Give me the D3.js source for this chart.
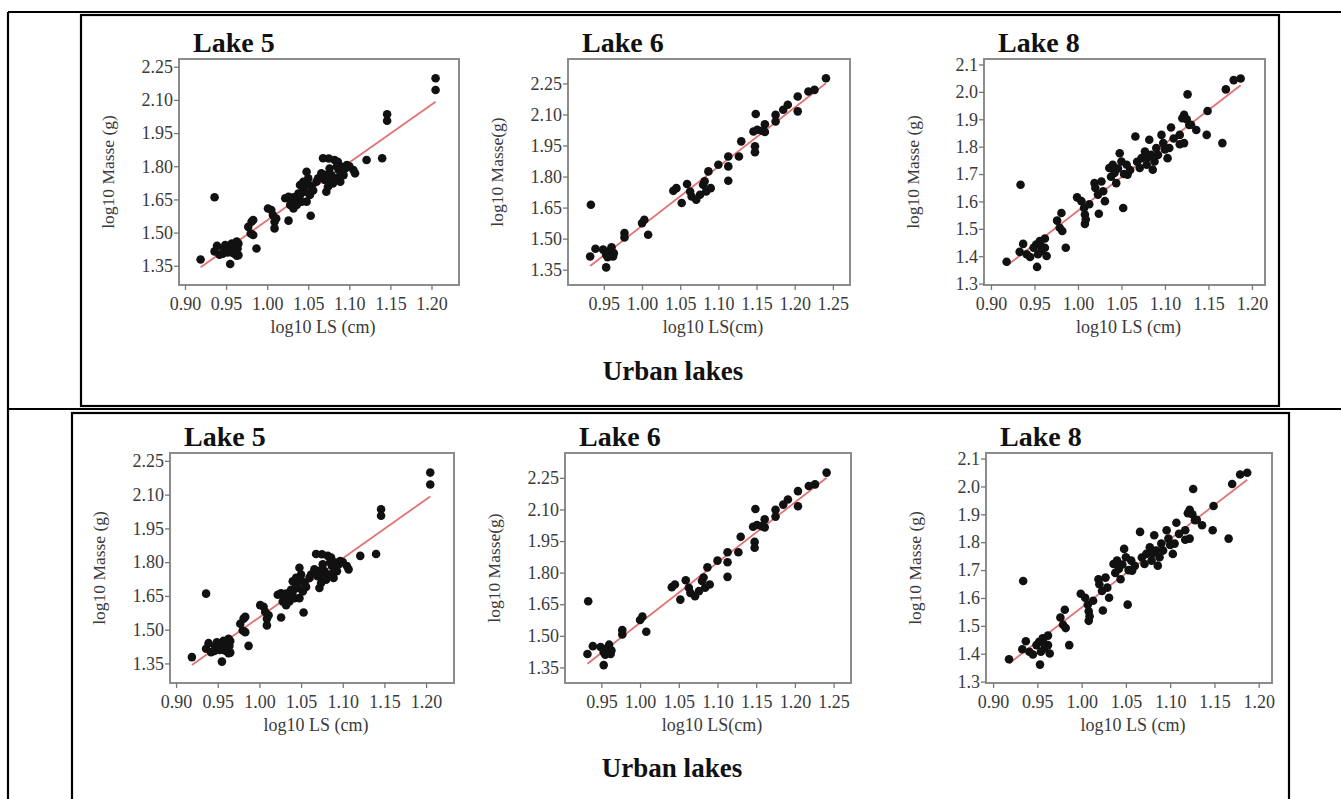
<!DOCTYPE html>
<html>
<head>
<meta charset="utf-8">
<script src="https://cdn.jsdelivr.net/npm/d3@7"></script>
<style>
  html, body { margin: 0; padding: 0; background: #fff; }
  svg { display: block; }
  text { font-family: "Liberation Serif", "Times New Roman", serif; }
</style>
</head>
<body>
<svg id="chart" width="1341" height="799"></svg>
<script>
// ---- data ----
const lakeNames = ["Lake 5", "Lake 6", "Lake 8"];
const yAxisLabels = ["log10 Masse (g)", "log10 Masse(g)", "log10 Masse (g)"];
const xAxisLabels = ["log10 LS (cm)", "log10 LS(cm)", "log10 LS (cm)"];
const panelTitle = "Urban lakes";

const xTicks5 = [0.90, 0.95, 1.00, 1.05, 1.10, 1.15, 1.20];
const yTicks5 = [1.35, 1.50, 1.65, 1.80, 1.95, 2.10, 2.25];
const xTicks6 = [0.95, 1.00, 1.05, 1.10, 1.15, 1.20, 1.25];
const yTicks6 = [1.35, 1.50, 1.65, 1.80, 1.95, 2.10, 2.25];
const xTicks8 = [0.90, 0.95, 1.00, 1.05, 1.10, 1.15, 1.20];
const yTicks8 = [1.3, 1.4, 1.5, 1.6, 1.7, 1.8, 1.9, 2.0, 2.1];

const xRange5 = [0.8927, 1.2335], yRange5 = [1.263, 2.285];
const xRange6 = [0.9030, 1.2725], yRange6 = [1.276, 2.368];
const xRange8 = [0.8920, 1.2150], yRange8 = [1.295, 2.120];

// log10 LS, log10 Masse
const lake5X = [0.919,0.936,0.939,0.936,0.942,0.946,0.950,0.955,0.957,0.962,0.963,0.965,0.960,0.947,0.949,0.957,0.963,0.964,0.965,0.959,
  0.977,0.981,0.983,0.980,0.983,0.987,1.001,1.005,1.007,1.009,1.009,1.011,1.022,1.026,1.028,1.030,1.032,1.026,1.034,1.038,
  1.040,1.044,1.048,1.050,1.046,1.048,1.052,1.054,1.053,1.042,1.036,1.060,1.066,1.068,1.072,1.074,1.078,1.080,1.082,1.086,
  1.084,1.087,1.089,1.091,1.093,1.097,1.105,1.107,1.076,1.070,1.075,1.121,1.140,1.146,1.146,1.205,1.205,
  1.044,1.050,1.056,1.062,1.072,1.078,1.085,1.090,1.095,1.100,1.032,1.040,0.955,0.952];
const lake5Y = [1.378,1.660,1.440,1.415,1.400,1.405,1.420,1.358,1.410,1.425,1.395,1.450,1.405,1.425,1.444,1.451,1.459,1.428,1.398,1.413,
  1.526,1.549,1.557,1.496,1.489,1.428,1.609,1.602,1.579,1.549,1.519,1.564,1.655,1.662,1.625,1.640,1.609,1.554,1.655,1.677,
  1.715,1.730,1.775,1.745,1.685,1.640,1.670,1.707,1.576,1.640,1.625,1.730,1.768,1.836,1.685,1.707,1.760,1.722,1.828,1.820,
  1.745,1.783,1.730,1.798,1.760,1.805,1.783,1.768,1.790,1.738,1.835,1.828,1.836,2.035,2.006,2.198,2.145,
  1.700,1.720,1.690,1.745,1.760,1.730,1.800,1.765,1.790,1.800,1.660,1.670,1.440,1.410];

const lake6X = [0.933,0.932,0.939,0.949,0.953,0.953,0.957,0.960,0.963,0.955,0.962,0.977,0.977,1.000,1.003,1.008,1.041,1.045,1.052,1.059,
  1.063,1.065,1.071,1.076,1.080,1.082,1.084,1.087,1.090,1.100,1.113,1.113,1.113,1.127,1.130,1.146,1.148,1.148,1.149,1.151,
  1.157,1.161,1.161,1.175,1.175,1.185,1.191,1.204,1.204,1.218,1.226,1.241];
const lake6Y = [1.664,1.414,1.451,1.447,1.361,1.422,1.439,1.458,1.430,1.410,1.414,1.527,1.506,1.575,1.591,1.519,1.731,1.744,1.672,1.764,
  1.728,1.704,1.688,1.712,1.760,1.777,1.728,1.825,1.744,1.857,1.897,1.849,1.780,1.897,1.970,2.018,1.946,1.918,2.102,2.026,
  2.021,2.053,2.015,2.098,2.066,2.123,2.147,2.187,2.115,2.211,2.219,2.275];

const lake8X = [0.918,0.934,0.937,0.933,0.941,0.945,0.949,0.953,0.952,0.956,0.958,0.962,0.962,0.964,0.954,0.976,0.981,0.979,0.982,0.986,
  0.999,1.004,1.007,1.008,1.008,1.009,1.019,1.020,1.024,1.023,1.027,1.029,1.031,1.036,1.040,1.042,1.044,1.048,1.050,1.052,
  1.056,1.057,1.066,1.071,1.073,1.077,1.079,1.082,1.084,1.086,1.088,1.090,1.096,1.098,1.103,1.105,1.107,1.117,1.117,1.122,
  1.120,1.122,1.126,1.128,1.136,1.148,1.149,1.166,1.170,1.179,1.187,
  1.038,1.046,1.053,1.060,1.068,1.080,1.092,1.100,1.110,1.125,1.130,1.013,0.957];
const lake8Y = [1.380,1.661,1.445,1.416,1.407,1.397,1.431,1.361,1.443,1.455,1.419,1.465,1.431,1.401,1.407,1.530,1.558,1.504,1.492,1.431,
  1.615,1.601,1.576,1.552,1.518,1.534,1.667,1.649,1.555,1.625,1.673,1.637,1.601,1.722,1.734,1.704,1.667,1.776,1.746,1.576,
  1.734,1.698,1.837,1.722,1.758,1.782,1.734,1.825,1.770,1.716,1.746,1.795,1.843,1.813,1.758,1.795,1.870,1.843,1.809,1.813,
  1.904,1.916,1.991,1.879,1.861,1.843,1.930,1.813,2.009,2.043,2.049,
  1.690,1.720,1.700,1.715,1.745,1.760,1.770,1.790,1.830,1.900,1.880,1.590,1.440];

// fitted line: [intercept, slope]
const fit5 = [-1.065, 2.620];
const fit6 = [-1.295, 2.857];
const fit8 = [-0.885, 2.451];

const lakes = [
  { name: lakeNames[0], xs: lake5X, ys: lake5Y, fit: fit5, xd: xRange5, yd: yRange5, xt: xTicks5, yt: yTicks5, yfmt: ".2f", yl: yAxisLabels[0], xl: xAxisLabels[0] },
  { name: lakeNames[1], xs: lake6X, ys: lake6Y, fit: fit6, xd: xRange6, yd: yRange6, xt: xTicks6, yt: yTicks6, yfmt: ".2f", yl: yAxisLabels[1], xl: xAxisLabels[1] },
  { name: lakeNames[2], xs: lake8X, ys: lake8Y, fit: fit8, xd: xRange8, yd: yRange8, xt: xTicks8, yt: yTicks8, yfmt: ".1f", yl: yAxisLabels[2], xl: xAxisLabels[2] }
];

// ---- layout (two copies of the same table cell) ----
const rows = [
  { box: [81, 15, 1279, 406], frames: [[179, 59, 459, 285], [568, 59, 850, 285], [984, 59, 1265, 285]], titleX: 673, titleY: 380 },
  { box: [72, 413, 1289, 830], frames: [[170, 453, 454, 683], [565, 453, 851, 683], [986, 453, 1272, 683]], titleX: 672, titleY: 777 }
];

const serif = "'Liberation Serif', 'Times New Roman', serif";
const svg = d3.select("#chart");

// table rules
const table = svg.append("g").attr("fill", "none").attr("stroke", "#000").attr("stroke-width", 2.2);
table.append("line").attr("x1", 8).attr("x2", 1341).attr("y1", 12).attr("y2", 12);
table.append("line").attr("x1", 8).attr("x2", 8).attr("y1", 12).attr("y2", 799);
table.append("line").attr("x1", 8).attr("x2", 1341).attr("y1", 409).attr("y2", 409);

rows.forEach(row => {
  const [bx0, by0, bx1, by1] = row.box;
  table.append("rect")
    .attr("x", bx0).attr("y", by0)
    .attr("width", bx1 - bx0).attr("height", by1 - by0);

  lakes.forEach((lake, i) => {
    const [fx0, fy0, fx1, fy1] = row.frames[i];
    const x = d3.scaleLinear().domain(lake.xd).range([fx0, fx1]);
    const y = d3.scaleLinear().domain(lake.yd).range([fy1, fy0]);
    const g = svg.append("g");

    // frame
    g.append("rect")
      .attr("x", fx0).attr("y", fy0)
      .attr("width", fx1 - fx0).attr("height", fy1 - fy0)
      .attr("fill", "none").attr("stroke", "#8c8c8c").attr("stroke-width", 2);

    // axes
    const xa = g.append("g")
      .attr("transform", `translate(0,${fy1})`)
      .call(d3.axisBottom(x).tickValues(lake.xt).tickFormat(d3.format(".2f")).tickSize(5).tickPadding(7));
    const ya = g.append("g")
      .attr("transform", `translate(${fx0},0)`)
      .call(d3.axisLeft(y).tickValues(lake.yt).tickFormat(d3.format(lake.yfmt)).tickSize(5).tickPadding(1));
    [xa, ya].forEach(a => {
      a.attr("font-family", serif).attr("font-size", 18);
      a.select(".domain").remove();
      a.selectAll("line").attr("stroke", "#777").attr("stroke-width", 1.3);
      a.selectAll("text").attr("fill", "#3a3a3a");
    });

    // regression line
    const ext = d3.extent(lake.xs);
    g.append("line")
      .attr("x1", x(ext[0])).attr("y1", y(lake.fit[0] + lake.fit[1] * ext[0]))
      .attr("x2", x(ext[1])).attr("y2", y(lake.fit[0] + lake.fit[1] * ext[1]))
      .attr("stroke", "#e37373").attr("stroke-width", 1.8);

    // points
    g.append("g").selectAll("circle")
      .data(d3.range(lake.xs.length))
      .enter()
      .append("circle")
      .attr("cx", k => x(lake.xs[k]))
      .attr("cy", k => y(lake.ys[k]))
      .attr("r", 4.3)
      .attr("fill", "#111");

    // texts
    g.append("text")
      .attr("x", fx0 + 14).attr("y", fy0 - 7)
      .text(lake.name)
      .style("font-size", "28px").style("font-weight", "bold")
      .attr("fill", "#111");

    g.append("text")
      .attr("x", (fx0 + fx1) / 2 + 4).attr("y", fy1 + 48)
      .attr("text-anchor", "middle")
      .text(lake.xl)
      .style("font-size", "18px")
      .attr("fill", "#3a3a3a");

    g.append("text")
      .attr("transform", `translate(${fx0 - 71},${(fy0 + fy1) / 2}) rotate(-90)`)
      .attr("text-anchor", "middle")
      .attr("dy", "0.35em")
      .text(lake.yl)
      .style("font-size", "17.5px")
      .attr("fill", "#3a3a3a");
  });

  svg.append("text")
    .attr("x", row.titleX).attr("y", row.titleY)
    .attr("text-anchor", "middle")
    .text(panelTitle)
    .style("font-size", "27px").style("font-weight", "bold")
    .attr("fill", "#111");
});
</script>
</body>
</html>
